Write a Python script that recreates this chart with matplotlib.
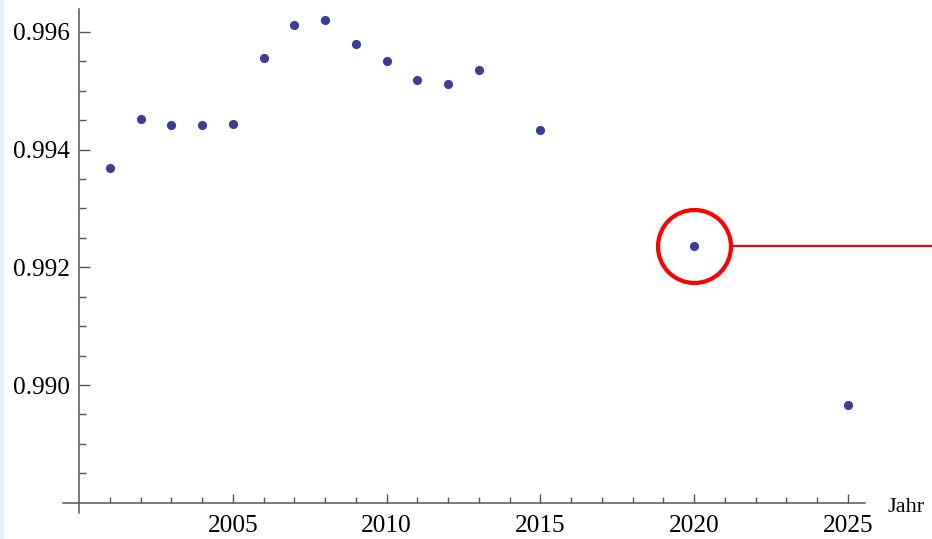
import numpy as np
import matplotlib
matplotlib.use("Agg")
import matplotlib.pyplot as plt
from matplotlib.patches import Rectangle
from matplotlib.ticker import FixedLocator, NullFormatter, FormatStrFormatter

# data
years = [2001, 2002, 2003, 2004, 2005, 2006, 2007, 2008, 2009, 2010,
         2011, 2012, 2013, 2015, 2020, 2025]
values = [0.99369, 0.99452, 0.99441, 0.99441, 0.99444, 0.99555, 0.99611,
          0.99621, 0.99579, 0.99551, 0.99518, 0.99511, 0.99535, 0.99434,
          0.99237, 0.98966]
highlight_year = 2020
x_major = [2005, 2010, 2015, 2020, 2025]
y_major = [0.990, 0.992, 0.994, 0.996]
x_label = "Jahr"

plt.rcParams['font.family'] = ['Liberation Serif', 'DejaVu Serif']

fig = plt.figure(figsize=(9.32, 5.39), dpi=100)
ax = fig.add_axes([0, 0, 1, 1])
ax.patch.set_alpha(0)

# light blue strip on the left edge
fig.patches.append(Rectangle((0, 0), 3 / 932, 1, transform=fig.transFigure,
                             color="#e3f1fb", zorder=0))

# pixel mapping: year 2000 at x=79, 30.75 px/yr; 0.990 at y=385, 58850 px/unit
ax.set_xlim(2000 - 79 / 30.75, 2000 + 853 / 30.75)
ax.set_ylim(0.990 - 154 / 58850, 0.990 + 385 / 58850)

pt_col = "#3d3d99"
ax.plot(years, values, "o", color=pt_col, markersize=6.6, markeredgewidth=0,
        zorder=3)

# red circle + line marking the highlighted point
i = years.index(highlight_year)
r_px = 36.5
ax.plot([years[i]], [values[i]], "o", markersize=2 * r_px * 0.72,
        markerfacecolor="none", markeredgecolor="red", markeredgewidth=3.0,
        zorder=4)
ax.plot([years[i] + r_px / 30.75, ax.get_xlim()[1]], [values[i], values[i]],
        color="red", linewidth=1.5, zorder=4)

# axes in Mathematica style
axc = "#555555"
for s in ["top", "right"]:
    ax.spines[s].set_visible(False)
ax.spines["left"].set_position(("data", 2000))
ax.spines["bottom"].set_position(("data", 0.988))
ax.spines["left"].set_bounds(0.988 - 10 / 58850, 0.996 + 23 / 58850)
ax.spines["bottom"].set_bounds(2000 - 16 / 30.75, 2000 + 786 / 30.75)
for s in ["left", "bottom"]:
    ax.spines[s].set_color(axc)
    ax.spines[s].set_linewidth(1.1)

ax.xaxis.set_major_locator(FixedLocator(x_major))
ax.xaxis.set_minor_locator(FixedLocator(list(range(2001, 2026))))
ax.yaxis.set_major_locator(FixedLocator(y_major))
ax.yaxis.set_minor_locator(FixedLocator(list(np.arange(0.9885, 0.99601, 0.0005))))
ax.yaxis.set_major_formatter(FormatStrFormatter("%.3f"))
ax.xaxis.set_minor_formatter(NullFormatter())

ax.tick_params(axis="x", which="major", direction="in", length=6.7, width=1.0,
               color=axc, labelsize=18.2, pad=9)
ax.tick_params(axis="x", which="minor", direction="in", length=4.3, width=1.0,
               color=axc)
ax.tick_params(axis="y", which="major", direction="in", length=8, width=1.0,
               color=axc, labelsize=18.2, pad=6.5)
ax.tick_params(axis="y", which="minor", direction="in", length=5, width=1.0,
               color=axc)

ax.annotate(x_label, xy=(2000 + 786 / 30.75, 0.988), xytext=(16.5, -6.5),
            textcoords="offset points", va="baseline", ha="left", fontsize=16)

fig.savefig("out.png", dpi=100)
